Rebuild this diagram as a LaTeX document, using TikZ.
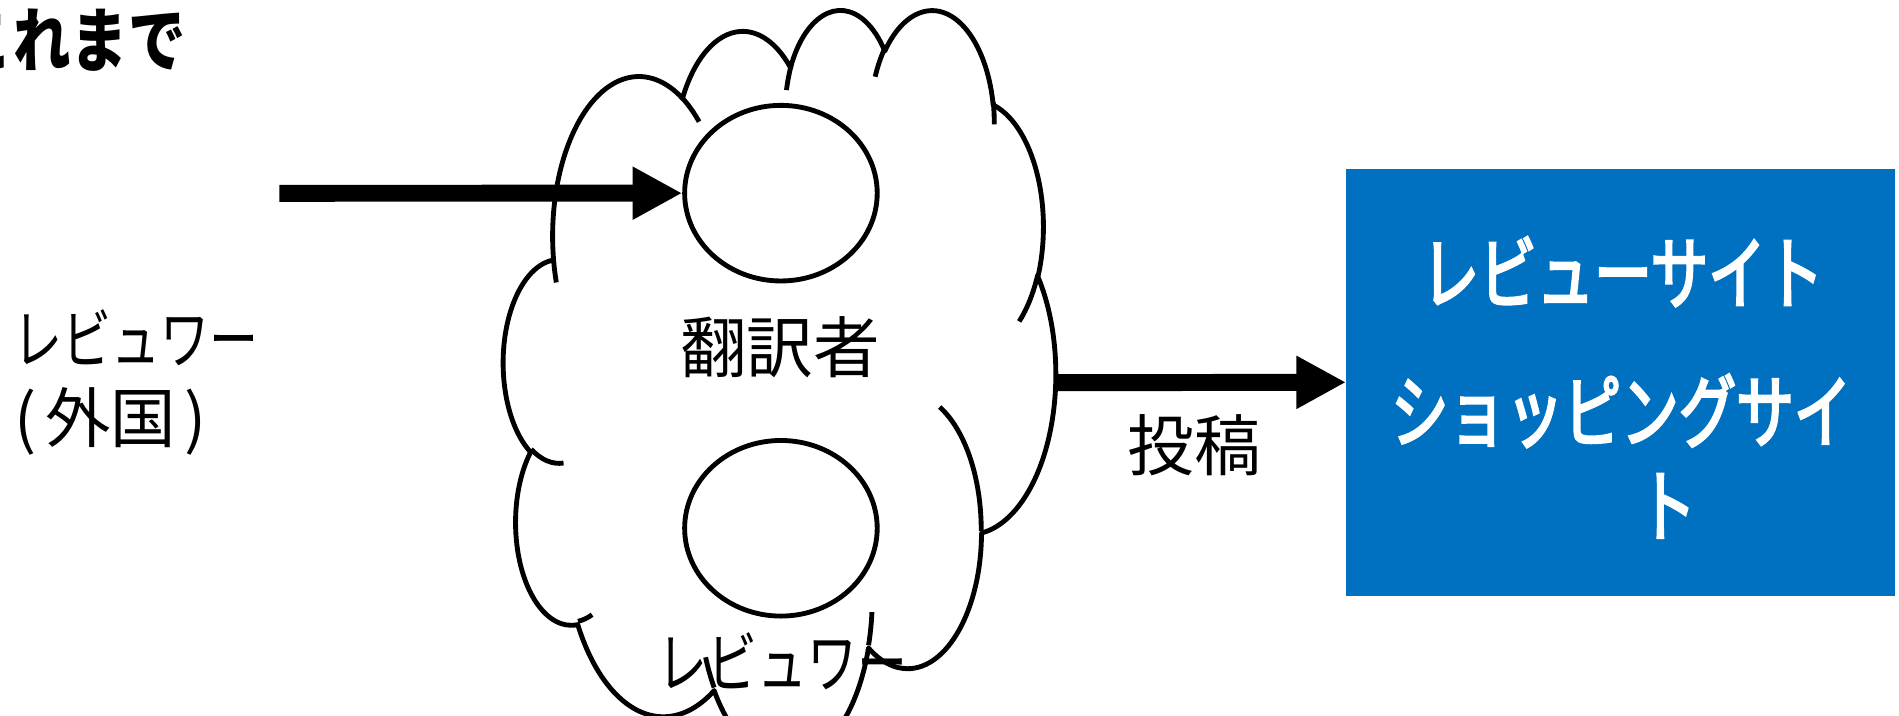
\documentclass[tikz,border=0pt]{standalone}
\usepackage{fontspec}
\usepackage{tikz}
\usetikzlibrary{shapes.geometric}
\usetikzlibrary{arrows.meta}
\newfontfamily\jpfont{Noto Sans CJK JP}
\newfontfamily\jpkana[FakeStretch=0.75]{Noto Sans CJK JP}
\newfontfamily\jpsite[FakeStretch=0.72, FakeBold=3]{Noto Sans CJK JP}
\newfontfamily\jphira[FakeStretch=0.82]{Noto Sans CJK JP}
\definecolor{siteblue}{HTML}{0070C0}
\tikzset{cloudline/.style={line width=4pt, line join=round},
 member/.style={ellipse, draw, line width=4pt, minimum width=159pt, minimum height=145pt, inner sep=0pt},
 flow/.style={line width=14pt, -{Triangle[length=41pt,width=41pt]}},
 jptext/.style={inner sep=0pt},
 sitebox/.style={fill=siteblue, minimum width=453.4pt, minimum height=352.3pt, inner sep=0pt},
 sitetext/.style={inner sep=0pt, text=white, font={\jpsite\fontsize{66}{70}\selectfont}},
 }

\begin{document}
\begin{tikzpicture}[x=1pt,y=-1pt]
        \useasboundingbox (0,0) rectangle (1568,590.4);
        \begin{scope}[shift={(415.8,6.6)}, xscale=1.05509, yscale=1.43542]
        \draw[cloudline] (39.00,143.70)
          \foreach \a/\b/\s/\w [evaluate=\s as \ta using {atan2(\a*sin(\s),\b*cos(\s))},
                                evaluate=\s as \tb using {atan2(\a*sin((\s)+(\w)),\b*cos((\s)+(\w)))},
                                evaluate=\s as \td using {mod((\tb)-(\ta)+720,360)}] in
          {67.53/91.90/-190.4875/123.7805, 53.33/72.67/-144.1024/89.9452,
           43.65/59.45/-145.8079/99.7230, 48.57/65.95/-130.9861/117.2417,
           53.33/72.73/-78.7089/109.0269, 67.75/92.20/-46.2673/130.2690,
           57.85/78.67/0.6250/114.0333, 67.52/92.15/22.4516/115.1726,
           77.20/105.43/66.2426/75.7110, 43.60/59.18/-274.9421/146.7356,
           43.45/59.45/-246.8285/152.5189}
          { arc[start angle=\ta, delta angle=\td, x radius=\a, y radius=\b] } -- cycle;
        \draw[cloudline]
          \foreach \x/\y/\a/\b/\s/\w [evaluate=\s as \ta using {atan2(\a*sin(\s),\b*cos(\s))},
                                      evaluate=\s as \tb using {atan2(\a*sin((\s)+(\w)),\b*cos((\s)+(\w)))},
                                      evaluate=\s as \td using {mod((\tb)-(\ta)+720,360)}] in
          {46.93/261.77/43.45/59.45/86.7420/26.4295, 69.28/348.99/43.60/59.18/73.6105/11.4475,
           164.78/390.90/67.52/92.15/137.6242/14.0811, 288.27/347.51/67.52/92.15/6.4533/15.9984,
           341.29/229.54/57.85/78.67/-70.2924/70.9174, 417.98/153.54/53.33/72.73/30.3180/27.7515,
           383.24/54.26/48.57/65.95/-13.7443/14.8589, 290.78/39.52/48.57/65.95/-149.1815/18.1954,
           221.41/47.20/43.65/59.45/-163.4943/17.6864, 140.00/51.92/67.53/91.90/-66.7070/12.3194,
           41.27/157.89/67.53/91.90/157.6544/11.8582}
          { (\x,\y) arc[start angle=\ta, delta angle=\td, x radius=\a, y radius=\b] };
        \end{scope}
        \node[member] (transtop) at (644.8,159.5) {};
        \node[member] (transbot) at (644.8,436.2) {};
        \node[sitebox] (site) at (1338.3,315.65) {};
        \coordinate (inflow) at (230.6,159.6);
        \coordinate (cloudeast) at (872,316);
        \draw[flow] (inflow) -- (transtop.west);
        \draw[flow] (cloudeast) -- (site.west);
        \node[jptext, anchor=east, font={\jphira\bfseries\fontsize{58}{60}\selectfont}] (sofar) at (153.8,33) {これまで};
        \node[jptext, anchor=west, font={\jpkana\fontsize{54}{60}\selectfont}] (revword) at (11,279) {レビュワー};
        \node[jptext, anchor=west, font={\jpfont\fontsize{54}{60}\selectfont}] (revfrom) at (12,348) {(\hspace{7pt}外国\hspace{7pt})};
        \node[jptext, font={\jpfont\fontsize{55}{60}\selectfont}] (translator) at (644,287) {翻訳者};
        \node[jptext, font={\jpkana\fontsize{55}{60}\selectfont}] (revin) at (646,546) {レビュワー};
        \node[jptext, font={\jpfont\fontsize{55}{60}\selectfont}] (post) at (986,368) {投稿};
        \node[sitetext] (sitea) at (1339.7,224.3) {レビューサイト};
        \node[sitetext] (siteb) at (1338.6,339.2) {ショッピングサイ};
        \node[sitetext] (sitec) at (1376.7,417.7) {ト};
    \end{tikzpicture}
\end{document}
